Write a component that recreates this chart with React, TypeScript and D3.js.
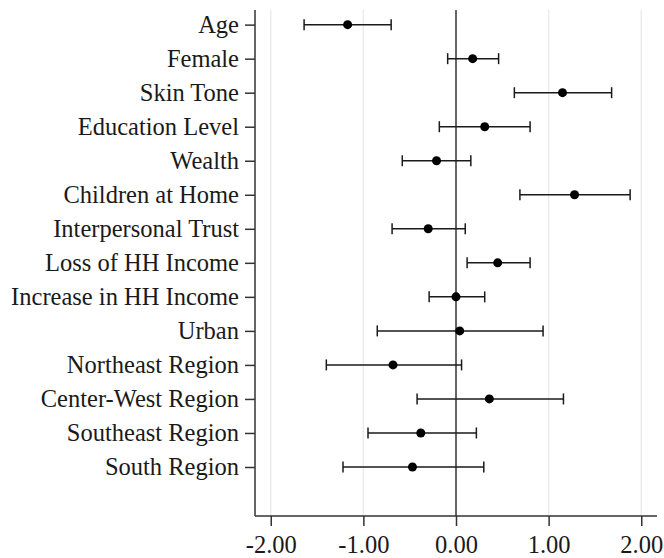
import React, { useEffect, useRef } from 'react';
import * as d3 from 'd3';

const labels = [
    'Age',
    'Female',
    'Skin Tone',
    'Education Level',
    'Wealth',
    'Children at Home',
    'Interpersonal Trust',
    'Loss of HH Income',
    'Increase in HH Income',
    'Urban',
    'Northeast Region',
    'Center-West Region',
    'Southeast Region',
    'South Region'
];

const estimates = [-1.17, 0.18, 1.15, 0.31, -0.21, 1.28, -0.30, 0.45, 0.00, 0.04, -0.68, 0.36, -0.38, -0.47];
const lower = [-1.64, -0.09, 0.63, -0.18, -0.58, 0.69, -0.69, 0.12, -0.29, -0.85, -1.40, -0.42, -0.95, -1.22];
const upper = [-0.70, 0.46, 1.68, 0.80, 0.16, 1.88, 0.10, 0.80, 0.31, 0.94, 0.06, 1.16, 0.22, 0.30];

const xTicks = [-2, -1, 0, 1, 2];

const App: React.FC = () => {
    const chartRef = useRef<SVGSVGElement | null>(null);

    useEffect(() => {
        if (!chartRef.current) return;

        const width = 664;
        const height = 558;
        const margin = { top: 10, right: 7, bottom: 42, left: 255 };
        const font = 'Liberation Serif';
        const fontSize = 24.5;
        const axisColor = '#333333';

        const svg = d3.select(chartRef.current)
            .attr('width', width)
            .attr('height', height)
            .attr('font-family', font);

        svg.selectAll('*').remove();

        const x = d3.scaleLinear()
            .domain([-2.17, 2.17])
            .range([margin.left, width - margin.right]);

        // rows sit on integer positions, extra room left under the last one
        const y = d3.scaleLinear()
            .domain([-0.43, 14.44])
            .range([margin.top, height - margin.bottom]);

        const y0 = margin.top;
        const y1 = height - margin.bottom;

        // light vertical gridlines
        svg.append('g')
            .selectAll('line')
            .data(xTicks.filter(t => t !== 0))
            .enter().append('line')
            .attr('x1', d => x(d))
            .attr('x2', d => x(d))
            .attr('y1', y0)
            .attr('y2', y1)
            .attr('stroke', '#ebebeb')
            .attr('stroke-width', 1.5);

        // zero reference line
        svg.append('line')
            .attr('x1', x(0))
            .attr('x2', x(0))
            .attr('y1', y0)
            .attr('y2', y1)
            .attr('stroke', axisColor)
            .attr('stroke-width', 1.5);

        // x axis
        const xAxis = d3.axisBottom(x)
            .tickValues(xTicks)
            .tickSize(10)
            .tickPadding(10)
            .tickFormat(d => (d as number).toFixed(2));

        svg.append('g')
            .attr('transform', `translate(0, ${y1})`)
            .call(xAxis)
            .attr('font-family', font)
            .attr('font-size', fontSize)
            .call(g => g.select('.domain')
                .attr('d', `M${margin.left},0H${width - margin.right}`)
                .attr('stroke', axisColor)
                .attr('stroke-width', 1.5))
            .call(g => g.selectAll('.tick line').attr('stroke', axisColor).attr('stroke-width', 1.5))
            .call(g => g.selectAll('.tick text').attr('fill', '#1a1a1a'));

        // y axis
        const yAxis = d3.axisLeft(y)
            .tickValues(d3.range(labels.length))
            .tickSize(10)
            .tickPadding(6)
            .tickFormat(i => labels[i as number]);

        svg.append('g')
            .attr('transform', `translate(${margin.left}, 0)`)
            .call(yAxis)
            .attr('font-family', font)
            .attr('font-size', fontSize)
            .call(g => g.select('.domain')
                .attr('d', `M0,${y0}V${y1}`)
                .attr('stroke', axisColor)
                .attr('stroke-width', 1.5))
            .call(g => g.selectAll('.tick line').attr('stroke', axisColor).attr('stroke-width', 1.5))
            .call(g => g.selectAll('.tick text').attr('fill', '#1a1a1a'));

        const rows = d3.range(labels.length);
        const cap = 5.5;

        const bars = svg.append('g').attr('stroke', '#1a1a1a').attr('stroke-width', 1.5);

        bars.selectAll('.ci')
            .data(rows)
            .enter().append('line')
            .attr('class', 'ci')
            .attr('x1', i => x(lower[i]))
            .attr('x2', i => x(upper[i]))
            .attr('y1', i => y(i))
            .attr('y2', i => y(i));

        bars.selectAll('.cap-lo')
            .data(rows)
            .enter().append('line')
            .attr('class', 'cap-lo')
            .attr('x1', i => x(lower[i]))
            .attr('x2', i => x(lower[i]))
            .attr('y1', i => y(i) - cap)
            .attr('y2', i => y(i) + cap);

        bars.selectAll('.cap-hi')
            .data(rows)
            .enter().append('line')
            .attr('class', 'cap-hi')
            .attr('x1', i => x(upper[i]))
            .attr('x2', i => x(upper[i]))
            .attr('y1', i => y(i) - cap)
            .attr('y2', i => y(i) + cap);

        svg.append('g')
            .selectAll('circle')
            .data(rows)
            .enter().append('circle')
            .attr('cx', i => x(estimates[i]))
            .attr('cy', i => y(i))
            .attr('r', 4.5)
            .attr('fill', '#000000');
    }, []);

    return (
        <svg ref={chartRef} style={{ position: 'absolute', left: 0, top: 0, background: 'white' }}></svg>
    );
};

export default App;
